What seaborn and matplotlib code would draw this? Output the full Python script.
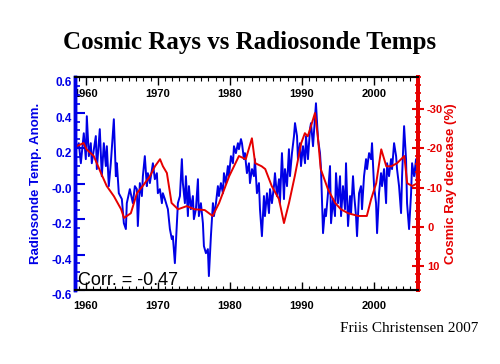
import matplotlib
matplotlib.use("Agg")
import matplotlib.pyplot as plt
import seaborn as sns
from matplotlib.ticker import MultipleLocator

# radiosonde temperature anomaly (blue, left axis)
temp_years = [
    1958.33, 1959.03, 1959.31, 1959.72, 1960.00, 1960.14, 1960.42, 1960.69, 1960.83, 1961.39,
    1961.53, 1961.94, 1962.22, 1962.50, 1962.78, 1962.92, 1963.19, 1963.47, 1963.89, 1964.17,
    1964.31, 1964.58, 1965.00, 1965.28, 1965.56, 1965.69,
    1966.11, 1966.53, 1966.81, 1967.08, 1967.22, 1967.50, 1967.78, 1967.92, 1968.19, 1968.47,
    1968.61, 1968.89, 1969.31, 1969.58, 1969.86, 1970.00, 1970.28, 1970.56, 1970.69, 1970.97,
    1971.39, 1971.67, 1971.94, 1972.08, 1972.36, 1972.64, 1972.78, 1973.06, 1973.33, 1973.47,
    1973.75,
    1973.89, 1974.17, 1974.31, 1974.58, 1974.86, 1975.00, 1975.28, 1975.56, 1975.69, 1975.97,
    1976.25, 1976.39, 1976.67, 1976.94, 1977.08, 1977.36, 1977.64, 1977.78, 1978.06, 1978.33,
    1978.47, 1978.75, 1979.03, 1979.17, 1979.44, 1979.72, 1979.86, 1980.14, 1980.42, 1980.56,
    1980.83, 1981.11, 1981.25, 1981.53,
    1981.67, 1981.94, 1982.08, 1982.36, 1982.64, 1982.78, 1983.06, 1983.33, 1983.47, 1983.75,
    1984.03, 1984.17, 1984.44, 1984.72, 1984.86, 1985.14, 1985.42, 1985.56, 1985.83, 1986.11,
    1986.25, 1986.53, 1986.81, 1986.94, 1987.22, 1987.50, 1987.64, 1987.92, 1988.19, 1988.33,
    1988.61, 1988.89, 1989.03, 1989.31,
    1989.44, 1989.72, 1989.86, 1990.14, 1990.42, 1990.56, 1990.83, 1991.11, 1991.25, 1991.53,
    1991.81, 1991.94, 1992.22, 1992.50, 1992.64, 1992.92, 1993.19, 1993.33, 1993.61, 1993.89,
    1994.03, 1994.31, 1994.58, 1994.72, 1995.00, 1995.28, 1995.42, 1995.69, 1995.97, 1996.11,
    1996.39, 1996.67, 1996.81, 1997.08,
    1997.22, 1997.50, 1997.64, 1997.92, 1998.19, 1998.33, 1998.61, 1998.89, 1999.03, 1999.31,
    1999.58, 1999.72, 2000.00, 2000.28, 2000.42, 2000.69, 2000.97, 2001.11, 2001.39, 2001.67,
    2001.81, 2002.08, 2002.36, 2002.50, 2002.78, 2003.06, 2003.19, 2003.47, 2003.75, 2003.89,
    2004.17, 2004.44, 2004.58, 2004.86, 2005.14, 2005.28, 2005.56, 2005.83, 2005.97,
]
temp_anom = [
    0.172, 0.228, 0.115, 0.284, 0.138, 0.380, 0.155, 0.228, 0.115, 0.268,
    0.082, 0.307, 0.042, 0.228, 0.099, 0.211, -0.014, 0.115, 0.363, 0.042,
    0.115, -0.054, -0.087, -0.223, -0.256, -0.110,
    -0.031, -0.110, -0.014, -0.031, -0.239, 0.003, -0.070, 0.042, 0.155, -0.014,
    0.059, 0.003, 0.115, 0.025, 0.059, -0.054, -0.031, -0.110, -0.054, -0.087,
    -0.144, -0.256, -0.313, -0.296, -0.448, -0.223, -0.110, -0.070, 0.138, 0.003,
    -0.110,
    0.042, -0.183, -0.014, -0.144, -0.070, -0.200, -0.144, 0.025, -0.183, -0.110,
    -0.223, -0.352, -0.392, -0.369, -0.521, -0.296, -0.110, -0.183, -0.110, -0.014,
    -0.070, 0.003, -0.054, 0.059, 0.003, 0.099, 0.042, 0.155, 0.115, 0.211,
    0.172, 0.228, 0.194, 0.251,
    0.228, 0.138, 0.172, 0.059, 0.115, 0.003, 0.082, 0.042, 0.138, -0.054,
    0.003, -0.144, -0.296, -0.070, -0.183, -0.054, -0.166, -0.031, -0.110, -0.014,
    0.059, -0.070, 0.025, -0.110, 0.172, -0.087, 0.082, -0.014, 0.194, 0.042,
    0.172, 0.268, 0.341, 0.268,
    0.138, 0.228, 0.099, 0.211, 0.115, 0.268, 0.138, 0.307, 0.341, 0.211,
    0.380, 0.453, 0.251, 0.172, 0.082, -0.279, -0.144, -0.183, -0.054, 0.099,
    -0.223, -0.087, -0.183, 0.059, -0.110, 0.042, -0.183, -0.014, -0.144, 0.115,
    -0.239, -0.070, -0.166, 0.042,
    -0.054, -0.183, -0.296, -0.054, -0.014, -0.144, 0.042, 0.138, 0.082, 0.172,
    0.138, 0.228, -0.014, -0.110, -0.279, -0.054, 0.059, -0.014, 0.082, -0.110,
    0.115, 0.042, 0.138, 0.082, 0.228, 0.155, 0.082, -0.014, -0.166, 0.042,
    0.324, 0.138, -0.110, -0.256, -0.054, 0.115, 0.042, 0.138, -0.014,
]

# cosmic ray decrease in % (red, right axis, inverted)
ray_years = [
    1958.5, 1958.75, 1959.7, 1960.1, 1961.1, 1962.1, 1962.9, 1963.9, 1964.9, 1965.3,
    1966.25, 1967.1, 1967.9, 1968.9, 1969.6, 1970.3, 1970.7, 1971.25, 1971.9, 1972.8,
    1974.0, 1975.1, 1976.5, 1977.6, 1978.5, 1979.9, 1981.25, 1982.2, 1983.05, 1983.5,
    1984.4, 1984.9, 1985.8, 1986.8, 1987.5, 1988.2, 1989.0, 1989.9, 1990.4, 1990.8,
    1991.25, 1991.8, 1992.2, 1992.6, 1993.6, 1994.6, 1995.4, 1996.4, 1997.8, 1999.0,
    1999.6, 2000.3, 2001.0, 2001.7, 2002.4, 2003.2, 2004.2, 2004.6, 2005.3, 2006.0,
]
ray_decrease = [
    -22.0, -20.5, -21.3, -19.7, -18.0, -13.7, -10.4, -7.8, -4.5, -2.3,
    -3.5, -8.6, -10.4, -12.9, -15.4, -17.2, -15.4, -13.7, -6.1, -4.5,
    -5.3, -4.5, -4.3, -2.8, -6.1, -12.9, -18.0, -17.2, -22.5, -16.2,
    -15.4, -14.7, -10.4, -7.1, -1.0, -6.1, -12.9, -21.3, -23.8, -23.0,
    -25.6, -28.9, -23.0, -14.7, -9.6, -6.1, -4.5, -3.5, -2.8, -2.8,
    -7.1, -11.1, -19.7, -15.4, -15.4, -16.2, -18.0, -11.1, -10.4, -11.1,
]

year_ticks = [1960, 1970, 1980, 1990, 2000]
temp_ticks = [-0.6, -0.4, -0.2, 0.0, 0.2, 0.4, 0.6]
temp_tick_labels = ["-0.6", "-0.4", "-0.2", "-0.0", "0.2", "0.4", "0.6"]
ray_ticks = [-30, -20, -10, 0, 10]
ray_tick_labels = ["-30", "-20", "-10", "0", "10"]

BLUE = "#0000e6"
RED = "#e60000"

sns.set_theme(style="white")
plt.rcParams["font.family"] = ["Liberation Sans", "DejaVu Sans"]
plt.rcParams["axes.unicode_minus"] = False
plt.rcParams["text.color"] = "black"

fig = plt.figure(figsize=(5, 3.64), dpi=100)
ax = fig.add_axes([0.15, 0.203, 0.686, 0.585])
ax2 = ax.twinx()

sns.lineplot(x=temp_years, y=temp_anom, ax=ax, color=BLUE, linewidth=1.4,
             estimator=None, sort=False)
sns.lineplot(x=ray_years, y=ray_decrease, ax=ax2, color=RED, linewidth=1.4,
             estimator=None, sort=False)

ax.set_xlim(1958.5, 2006.1)
ax.set_ylim(-0.6, 0.6)
ax2.set_ylim(16, -38)

# x axis: labels below the frame and inside along the top
ax.set_xticks(year_ticks)
ax.xaxis.set_minor_locator(MultipleLocator(1))
ax.tick_params(axis="x", which="both", direction="in", bottom=True, top=True,
               color="black", labelcolor="black", labelsize=8, pad=8)
ax.tick_params(axis="x", which="major", length=6, width=1)
ax.tick_params(axis="x", which="minor", length=3, width=0.8)
for lab in ax.get_xticklabels():
    lab.set_fontweight("bold")
top = ax.secondary_xaxis("top")
top.set_xticks(year_ticks)
top.tick_params(axis="x", direction="in", length=0, pad=-16, labelsize=8,
                labelcolor="black")
for lab in top.get_xticklabels():
    lab.set_fontweight("bold")
top.spines["top"].set_visible(False)

# left axis
ax.set_yticks(temp_ticks, temp_tick_labels)
ax.yaxis.set_minor_locator(MultipleLocator(0.05))
ax.tick_params(axis="y", which="both", direction="in", left=True, right=False,
               colors=BLUE, labelsize=8.5, pad=2)
ax.tick_params(axis="y", which="major", length=7, width=1.5)
ax.tick_params(axis="y", which="minor", length=3.5, width=1.2)
for lab in ax.get_yticklabels():
    lab.set_fontweight("bold")
    lab.set_verticalalignment("top")
ax.set_xlabel("")
ax.set_ylabel("Radiosonde Temp. Anom.", color=BLUE, fontsize=9.5, fontweight="bold")
ax.yaxis.set_label_coords(-0.096, 0.5)

# right axis
ax2.set_yticks(ray_ticks, ray_tick_labels)
ax2.yaxis.set_minor_locator(MultipleLocator(2))
ax2.tick_params(axis="y", which="both", direction="inout", left=False, right=True,
                colors=RED, labelsize=8, pad=2)
ax2.tick_params(axis="y", which="major", length=9, width=1.5)
ax2.tick_params(axis="y", which="minor", length=5, width=1.2)
for lab in ax2.get_yticklabels():
    lab.set_fontweight("bold")
ax2.set_ylabel("Cosmic Ray decrease (%)", color=RED, fontsize=9.5, fontweight="bold")
ax2.yaxis.set_label_coords(1.079, 0.5)

for a in (ax, ax2):
    a.spines["top"].set_color("black")
    a.spines["bottom"].set_color("black")
    a.spines["top"].set_linewidth(1.5)
    a.spines["bottom"].set_linewidth(1.5)
    a.spines["left"].set_color(BLUE)
    a.spines["left"].set_linewidth(2.5)
    a.spines["right"].set_color(RED)
    a.spines["right"].set_linewidth(2.8)
    a.grid(False)

ax.text(0.008, 0.025, "Corr. = -0.47", transform=ax.transAxes, fontsize=13,
        color="black", ha="left", va="baseline")

fig.text(0.5, 1 - 42 / 364, "Cosmic Rays vs Radiosonde Temps", ha="center", va="center",
         fontsize=18, fontweight="bold", color="black",
         family=["Liberation Serif", "DejaVu Serif"])
fig.text(0.956, 1 - 329 / 364, "Friis Christensen 2007", ha="right", va="center",
         fontsize=11, color="black", family=["Liberation Serif", "DejaVu Serif"])

fig.savefig("out.png", dpi=100, facecolor="white")
